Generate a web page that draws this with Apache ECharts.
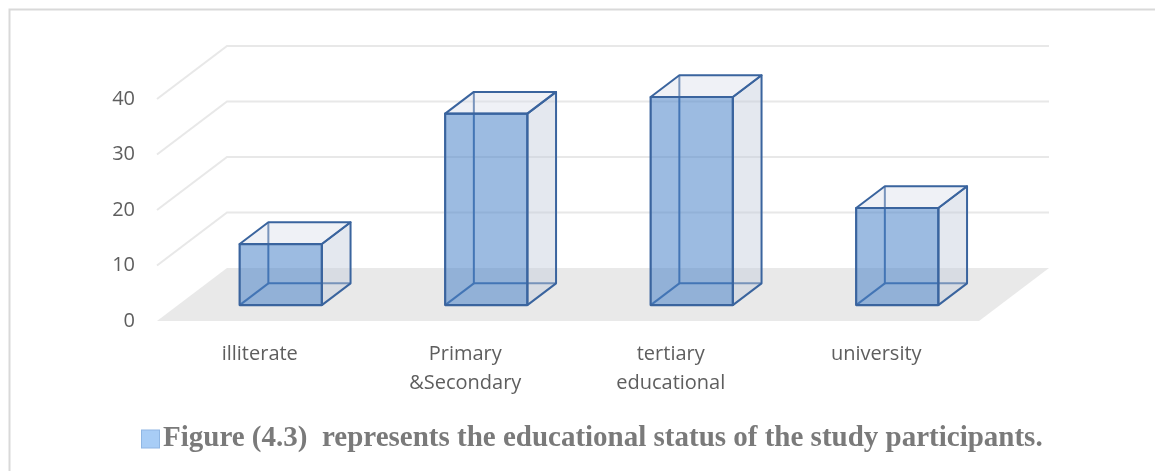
<!DOCTYPE html>
<html>
<head>
<meta charset="utf-8">
<script src="https://cdn.jsdelivr.net/npm/echarts@6/dist/echarts.min.js"></script>
<style>
  html, body { margin: 0; padding: 0; background: #ffffff; }
  #chart { width: 1155px; height: 471px; }
</style>
</head>
<body>
<div id="chart"></div>
<script>
// Educational status of the study participants (percent)
const categories = ['illiterate', 'Primary\n&Secondary', 'tertiary\neducational', 'university'];
const percentages = [11, 34.5, 37.5, 17.5];
const yTicks = [0, 10, 20, 30, 40];
const caption = 'Figure (4.3)  represents the educational status of the study participants.';

// Oblique projection: pixel shift for the full depth of the floor
const DEPTH_X = 70;
const DEPTH_Y = 53;
// Box placement inside the depth and inside each category band
const BAR_FRONT = 0.3;
const BAR_BACK = 0.71;
const BAR_WIDTH = 0.4;

const EDGE = '#3a649e';
const TEXT = '#5e5e5e';

const chart = echarts.init(document.getElementById('chart'), null, { renderer: 'canvas' });

function shift(p, d) {
  return [p[0] + DEPTH_X * d, p[1] - DEPTH_Y * d];
}

// Floor plus the gridlines running up the side wall and across the back wall
function renderWalls(params, api) {
  const v = api.value(1);
  const band = api.size([1, 0])[0];
  const first = api.coord([0, v]);
  const last = api.coord([categories.length - 1, v]);
  const left = first[0] - band / 2;
  const right = last[0] + band / 2;
  const y = first[1];
  if (v === 0) {
    return {
      type: 'polygon',
      shape: { points: [[left, y], [right, y], shift([right, y], 1), shift([left, y], 1)] },
      style: { fill: '#e9e9e9', stroke: null }
    };
  }
  return {
    type: 'polyline',
    shape: { points: [[left, y], shift([left, y], 1), shift([right, y], 1)] },
    style: { fill: null, stroke: '#e8e8e8', lineWidth: 2 }
  };
}

// Transparent 3D box for one category
function renderBox(params, api) {
  const idx = api.value(0);
  const val = api.value(1);
  const base = api.coord([idx, 0]);
  const top = api.coord([idx, val]);
  const half = api.size([1, 0])[0] * BAR_WIDTH / 2;
  const x0 = base[0] - half, x1 = base[0] + half;
  const yb = base[1], yt = top[1];

  const fbl = shift([x0, yb], BAR_FRONT), fbr = shift([x1, yb], BAR_FRONT);
  const ftl = shift([x0, yt], BAR_FRONT), ftr = shift([x1, yt], BAR_FRONT);
  const bbl = shift([x0, yb], BAR_BACK), bbr = shift([x1, yb], BAR_BACK);
  const btl = shift([x0, yt], BAR_BACK), btr = shift([x1, yt], BAR_BACK);

  const lineStyle = { stroke: EDGE, lineWidth: 2, fill: null };
  return {
    type: 'group',
    children: [
      { type: 'polyline', shape: { points: [btl, bbl, bbr] }, style: lineStyle },
      { type: 'line', shape: { x1: fbl[0], y1: fbl[1], x2: bbl[0], y2: bbl[1] }, style: lineStyle },
      {
        type: 'polygon',
        shape: { points: [fbr, bbr, btr, ftr] },
        style: { fill: 'rgba(196,205,220,0.45)', stroke: EDGE, lineWidth: 2, lineJoin: 'round' }
      },
      {
        type: 'polygon',
        shape: { points: [ftl, ftr, btr, btl] },
        style: { fill: 'rgba(214,220,232,0.4)', stroke: EDGE, lineWidth: 2, lineJoin: 'round' }
      },
      {
        type: 'polygon',
        shape: { points: [fbl, fbr, ftr, ftl] },
        style: { fill: 'rgba(74,132,200,0.55)', stroke: EDGE, lineWidth: 2.2, lineJoin: 'round' }
      }
    ]
  };
}

const option = {
  backgroundColor: '#ffffff',
  animation: false,
  title: {
    text: '{sq|}{gap|}' + caption,
    left: 142,
    top: 423,
    padding: 0,
    textStyle: {
      fontFamily: 'Liberation Serif',
      fontWeight: 'bold',
      fontSize: 29,
      lineHeight: 32,
      color: '#7a7a7a',
      rich: {
        sq: {
          width: 17,
          height: 17,
          backgroundColor: '#a8cdf6',
          borderColor: '#8fb6e3',
          borderWidth: 1,
          padding: 0
        },
        gap: { width: 4 }
      }
    }
  },
  grid: {
    left: 157,
    right: 176,
    top: 99,
    bottom: 150,
    outerBoundsMode: 'none'
  },
  xAxis: {
    type: 'category',
    data: categories,
    axisLine: { show: false },
    axisTick: { show: false },
    splitLine: { show: false },
    axisLabel: {
      margin: 19,
      interval: 0,
      fontFamily: 'Open Sans',
      fontSize: 20,
      lineHeight: 29,
      color: TEXT
    }
  },
  yAxis: {
    type: 'value',
    min: yTicks[0],
    max: yTicks[yTicks.length - 1],
    interval: yTicks[1] - yTicks[0],
    axisLine: { show: false },
    axisTick: { show: false },
    splitLine: { show: false },
    axisLabel: {
      margin: 22,
      fontFamily: 'Open Sans',
      fontSize: 20,
      color: TEXT
    }
  },
  graphic: [
    {
      type: 'rect',
      shape: { x: 9.5, y: 9.5, width: 1400, height: 700 },
      style: { fill: null, stroke: '#d9d9d9', lineWidth: 2 },
      silent: true,
      z: -10
    }
  ],
  series: [
    {
      type: 'custom',
      name: 'walls',
      renderItem: renderWalls,
      data: yTicks.map(v => [0, v]),
      encode: { x: 0, y: 1 },
      clip: false,
      silent: true,
      z: 1
    },
    {
      type: 'custom',
      name: 'percent',
      renderItem: renderBox,
      data: percentages.map((v, i) => [i, v]),
      encode: { x: 0, y: 1 },
      clip: false,
      z: 2
    }
  ]
};

chart.setOption(option);
</script>
</body>
</html>
